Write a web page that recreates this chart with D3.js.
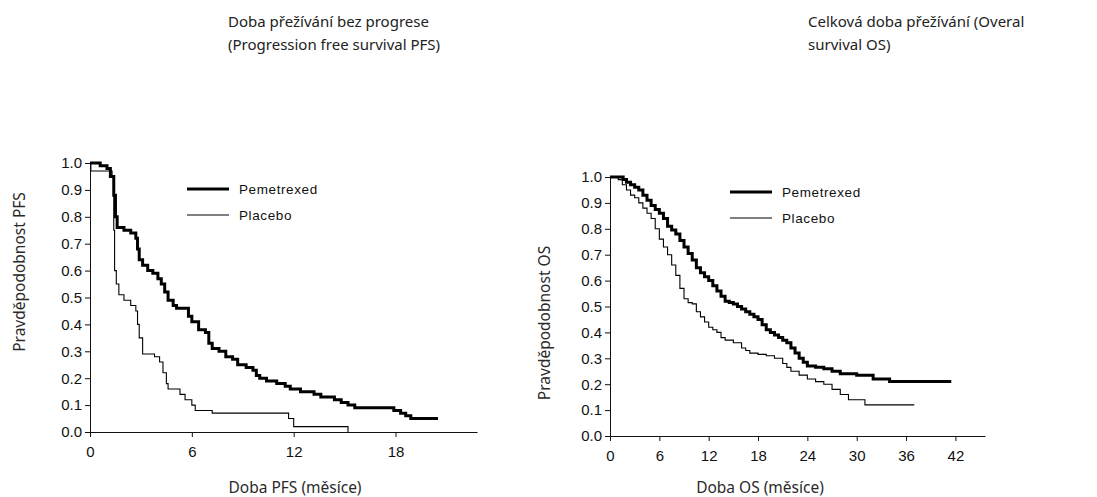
<!DOCTYPE html>
<html>
<head>
<meta charset="utf-8">
<script src="https://cdn.jsdelivr.net/npm/d3@7"></script>
<style>
body { margin: 0; background: #fff; }
.title { font-family: "Noto Sans", "Open Sans", sans-serif; font-size: 15px; fill: #222; }
.axisLabel { font-family: "Noto Sans", "Open Sans", sans-serif; font-size: 15.5px; fill: #2a2a2a; }
.legend { font-family: "Liberation Sans", Arial, sans-serif; font-size: 13.5px; fill: #111; letter-spacing: 0.6px; }
</style>
</head>
<body>
<svg id="chart" width="1097" height="497"></svg>
<script>
// PFS, months vs survival probability
const pfsPem = [[0,1.0],[0.6,0.99],[1.0,0.98],[1.2,0.95],[1.4,0.88],[1.5,0.8],[1.6,0.76],[2.0,0.75],[2.4,0.74],[2.7,0.72],[2.8,0.68],[2.9,0.64],[3.1,0.62],[3.4,0.60],[3.7,0.59],[4.0,0.57],[4.2,0.55],[4.4,0.52],[4.6,0.49],[4.9,0.47],[5.1,0.46],[5.5,0.46],[5.8,0.43],[6.0,0.41],[6.4,0.38],[6.8,0.37],[7.0,0.33],[7.2,0.31],[7.6,0.30],[8.0,0.28],[8.4,0.27],[8.7,0.25],[9.2,0.24],[9.6,0.23],[9.8,0.21],[10.0,0.20],[10.4,0.19],[11.0,0.18],[11.5,0.17],[11.8,0.16],[12.4,0.15],[13.2,0.14],[13.6,0.13],[14.4,0.12],[14.8,0.11],[15.2,0.10],[15.6,0.09],[17.9,0.08],[18.3,0.07],[18.6,0.06],[18.9,0.05],[20.5,0.05]];
const pfsPla = [[0,1.0],[0.05,0.97],[1.3,0.95],[1.4,0.75],[1.45,0.6],[1.55,0.55],[1.7,0.51],[2.0,0.49],[2.4,0.47],[2.7,0.45],[2.8,0.40],[2.9,0.35],[3.1,0.29],[3.8,0.28],[4.1,0.26],[4.3,0.22],[4.5,0.18],[4.6,0.16],[5.3,0.14],[5.6,0.12],[6.0,0.10],[6.2,0.08],[7.2,0.07],[11.7,0.05],[12.0,0.02],[15.2,0.02],[15.2,0.0]];
// OS
const osPem = [[0,1.0],[1.2,1.0],[1.6,0.99],[2,0.98],[2.5,0.97],[3,0.96],[3.5,0.95],[4,0.93],[4.5,0.91],[5,0.89],[5.5,0.875],[6,0.86],[6.5,0.84],[7,0.81],[7.5,0.795],[8,0.78],[8.5,0.755],[9,0.73],[9.5,0.705],[10,0.68],[10.5,0.65],[11,0.63],[11.5,0.615],[12,0.60],[12.5,0.58],[13,0.56],[13.5,0.54],[14,0.52],[14.5,0.515],[15,0.51],[15.5,0.50],[16,0.49],[16.5,0.48],[17,0.47],[17.5,0.46],[18,0.45],[18.5,0.43],[19,0.41],[19.5,0.40],[20,0.39],[20.5,0.38],[21,0.37],[21.5,0.36],[22,0.34],[22.5,0.32],[23,0.30],[23.5,0.285],[24,0.27],[25,0.265],[26,0.26],[27,0.25],[28,0.24],[30,0.235],[32,0.22],[34,0.21],[41.5,0.21]];
const osPla = [[0,1.0],[1,0.99],[1.5,0.97],[2,0.95],[2.5,0.93],[3,0.92],[3.5,0.90],[4,0.88],[4.5,0.86],[5,0.84],[5.5,0.80],[6,0.76],[6.5,0.73],[7,0.70],[7.5,0.66],[8,0.62],[8.5,0.57],[9,0.53],[9.5,0.515],[10,0.51],[10.5,0.48],[11,0.46],[11.5,0.44],[12,0.42],[12.5,0.41],[13,0.40],[13.5,0.38],[14,0.37],[15,0.36],[16,0.34],[16.5,0.33],[17,0.32],[18,0.315],[19,0.31],[20,0.30],[21,0.28],[21.5,0.265],[22,0.25],[23,0.235],[24,0.22],[25,0.21],[26,0.20],[27,0.18],[28,0.16],[29,0.14],[31,0.12],[37,0.12]];

const yTicks = [0,0.1,0.2,0.3,0.4,0.5,0.6,0.7,0.8,0.9,1.0];
const pfsXTicks = [0,6,12,18];
const osXTicks = [0,6,12,18,24,30,36,42];
const seriesNames = ["Pemetrexed","Placebo"];

const svg = d3.select("#chart");

function panel(o) {
	const x = d3.scaleLinear().domain([0, o.xMax]).range([o.left, o.right]);
	const y = d3.scaleLinear().domain([0, 1]).range([o.bottom, o.top]);

	const styleAxis = g => {
		g.selectAll("line, path").attr("stroke", "#111");
		g.selectAll("text").attr("font-family", "Liberation Sans, Arial, sans-serif")
			.attr("font-size", 15).attr("fill", "#111");
	};

	svg.append("g")
		.attr("transform", `translate(0,${o.bottom})`)
		.call(d3.axisBottom(x).tickValues(o.xTicks).tickSize(5).tickSizeOuter(0).tickPadding(9))
		.call(styleAxis);

	svg.append("g")
		.attr("transform", `translate(${o.left},0)`)
		.call(d3.axisLeft(y).tickValues(yTicks).tickFormat(d3.format(".1f")).tickSize(5).tickSizeOuter(0).tickPadding(3))
		.call(styleAxis);

	const line = d3.line().x(d => x(d[0])).y(d => y(d[1])).curve(d3.curveStepAfter);
	[o.pem, o.pla].forEach((data, i) => {
		svg.append("path").datum(data)
			.attr("fill", "none").attr("stroke", "#000")
			.attr("stroke-width", i === 0 ? 3 : 1.1)
			.attr("d", line);
	});

	seriesNames.forEach((name, i) => {
		const ly = o.legY + i * 26;
		svg.append("line").attr("x1", o.legX).attr("x2", o.legX + 42)
			.attr("y1", ly).attr("y2", ly)
			.attr("stroke", "#000").attr("stroke-width", i === 0 ? 3 : 1.1);
		svg.append("text").attr("class", "legend")
			.attr("x", o.legX + 52).attr("y", ly).attr("dy", "0.35em").text(name);
	});

	svg.append("text").attr("class", "axisLabel")
		.attr("x", o.xLabelX).attr("y", 493).attr("text-anchor", "middle").text(o.xLabel);
	svg.append("text").attr("class", "axisLabel")
		.attr("transform", `translate(${o.yLabelX},${o.yLabelY}) rotate(-90)`)
		.attr("text-anchor", "middle").text(o.yLabel);
}

panel({left: 90, right: 477, top: 163, bottom: 432, xMax: 22.8, xTicks: pfsXTicks,
	pem: pfsPem, pla: pfsPla, legX: 187, legY: 189,
	xLabel: "Doba PFS (měsíce)", xLabelX: 295, yLabel: "Pravděpodobnost PFS", yLabelX: 25, yLabelY: 272});
panel({left: 610, right: 985, top: 177, bottom: 436, xMax: 45.6, xTicks: osXTicks,
	pem: osPem, pla: osPla, legX: 730, legY: 192,
	xLabel: "Doba OS (měsíce)", xLabelX: 760, yLabel: "Pravděpodobnost OS", yLabelX: 550, yLabelY: 323});

const titles = [
	{x: 228, lines: ["Doba přežívání bez progrese", "(Progression free survival PFS)"]},
	{x: 808, lines: ["Celková doba přežívání (Overal", "survival OS)"]}
];
titles.forEach(t => {
	t.lines.forEach((s, i) => {
		svg.append("text").attr("class", "title").attr("x", t.x).attr("y", 27 + i * 23).text(s);
	});
});
</script>
</body>
</html>
